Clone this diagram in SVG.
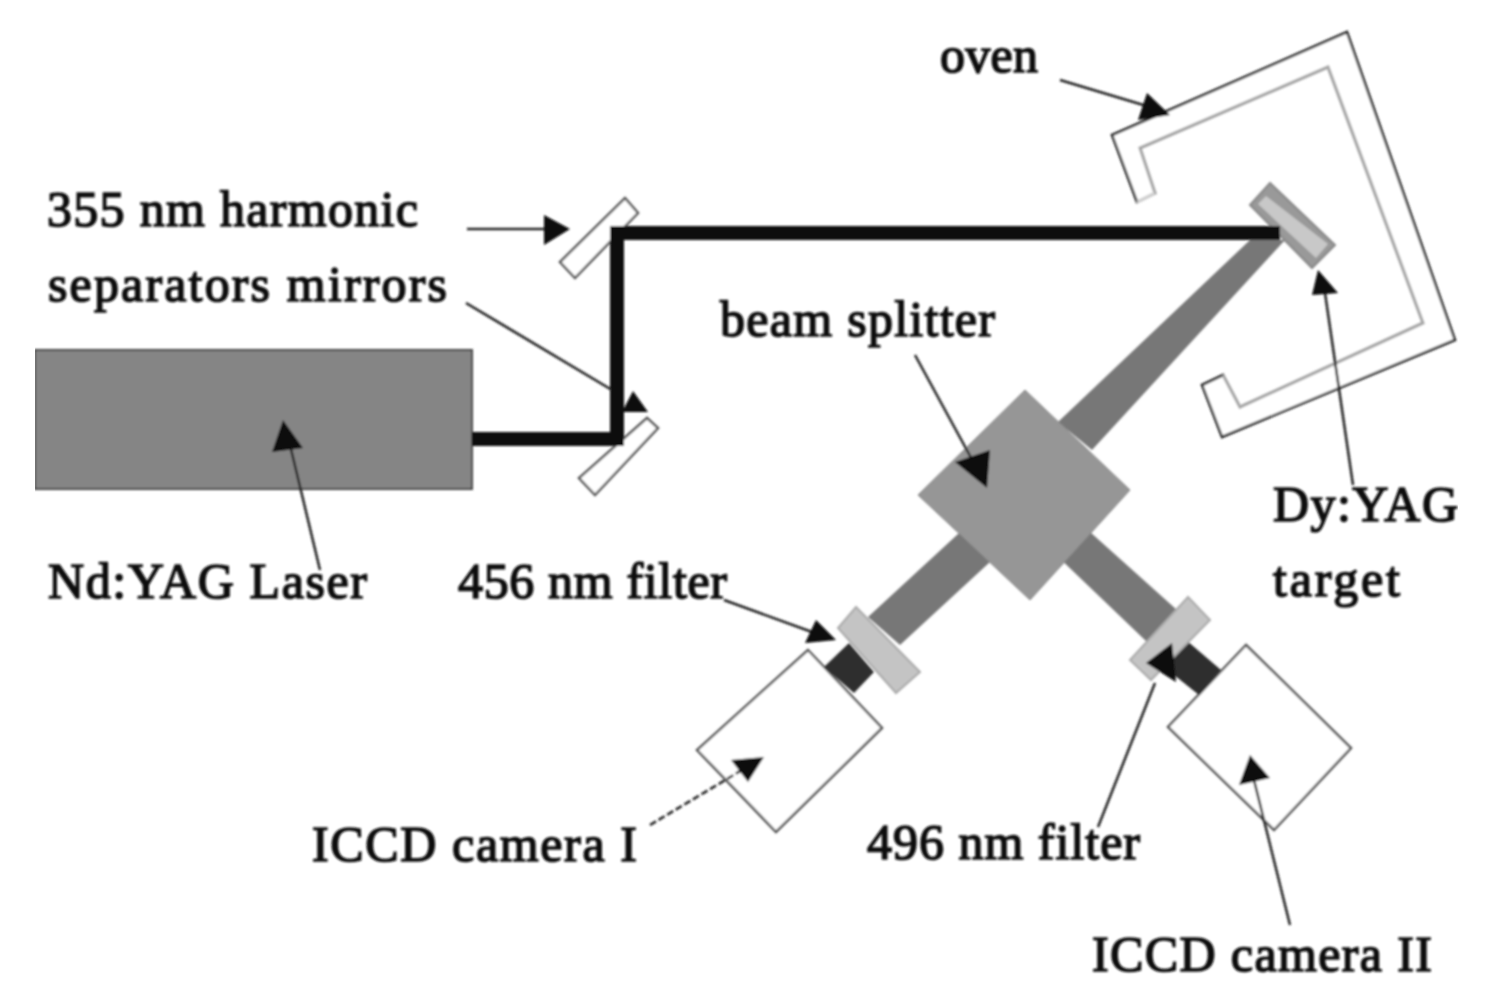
<svg xmlns="http://www.w3.org/2000/svg" width="1502" height="1000" viewBox="0 0 1502 1000">
<defs><filter id="soft" x="0" y="0" width="100%" height="100%"><feGaussianBlur stdDeviation="0.9"/></filter></defs>
<style>
.lbl{font-family:"Liberation Serif","Times New Roman",serif;font-size:50px;fill:#111;stroke:#111;stroke-width:1.6px}
.outline{fill:#fff;stroke:#555;stroke-width:2.5}
.beam{fill:#777}
.filter{fill:#c4c4c4;stroke:#aaa;stroke-width:2}
.dark{fill:#2e2e2e}
.lead{fill:none;stroke:#222;stroke-width:2.5}
.head{fill:#0a0a0a}
.laserbeam{fill:none;stroke:#0a0a0a;stroke-width:14;stroke-linejoin:miter}
</style>
<rect width="1502" height="1000" fill="#fff"/>
<g filter="url(#soft)">
<g id="oven"><path d="M1137,202 L1112,135 L1347,32 L1455,340 L1222,437 L1202,385 L1223,375 L1240,407 L1423,323 L1328,67 L1140,148 L1155,193 Z" fill="#fff" stroke="#222" stroke-width="2.5"/><path d="M1155,193 L1140,148 L1328,67 L1423,323 L1240,407 L1223,375" fill="none" stroke="#aaa" stroke-width="2.5"/><path d="M1137,202 L1155,193" fill="none" stroke="#ddd" stroke-width="2"/></g>
<g id="beams-gray"><polygon class="beam" points="1250,240 1285,240 1092,450 1058,422"/><polygon class="beam" points="868,617 900,645 1003,550 971,522"/><polygon class="beam" points="1053,552 1080,523 1177,610 1147,642"/></g>
<g id="laser"><rect x="35" y="350" width="437" height="139" fill="#858585" stroke="#444" stroke-width="2"/></g>
<g id="mirror-top"><polygon class="outline" points="625,198 638,213 575,278 560,262"/></g>
<g id="mirror-bottom"><polygon class="outline" points="647,418 658,428 595,495 579,478"/></g>
<g id="target"><polygon points="1270,183 1250,205 1312,268 1335,245" fill="#999" stroke="#888" stroke-width="2"/><polygon points="1266,196 1258,204 1316,258 1328,244" fill="#c8c8c8"/></g>
<g id="beam-splitter"><polygon points="1025,390 1130,490 1030,600 918,495" fill="#969696" stroke="#888" stroke-width="1"/></g>
<g id="camera-1"><polygon class="outline" points="808,650 882,728 776,832 697,750"/><polygon class="dark" points="849,643 874,672 854,693 824,667"/><polygon class="filter" points="856,607 920,672 896,693 838,628"/></g>
<g id="camera-2"><polygon class="outline" points="1246,645 1351,748 1274,830 1168,727"/><polygon class="dark" points="1186,640 1221,670 1199,695 1164,667"/><polygon class="filter" points="1188,597 1210,620 1151,680 1130,660"/></g>
<g id="connectors">
<path class="laserbeam" d="M472,439 H617 V233 H1280"/>
<path class="lead" d="M467,229 H546"/><polygon class="head" points="544,215 570,229 544,245"/>
<path class="lead" d="M466,303 L612,390"/><polygon class="head" points="633,391 648,412 622,412"/>
<path class="lead" d="M1060,80 L1150,107"/><polygon class="head" points="1147,93 1170,115 1138,120"/>
<path class="lead" d="M1353,485 L1325,293"/><polygon class="head" points="1318,270 1338,293 1312,295"/>
<path class="lead" d="M915,355 L975,465"/><polygon class="head" points="987,488 955,462 990,450"/>
<path class="lead" d="M320,570 L290,445"/><polygon class="head" points="283,420 303,448 272,452"/>
<path class="lead" d="M724,600 L812,632"/><polygon class="head" points="816,620 836,640 805,643"/>
<path class="lead" d="M1098,827 L1155,683"/><polygon class="head" points="1146,663 1172,643 1176,682"/>
<path class="lead" stroke-dasharray="7 3" d="M650,825 L742,770"/><polygon class="head" points="731,760 764,757 748,782"/>
<path class="lead" d="M1290,925 L1254,780"/><polygon class="head" points="1250,755 1270,778 1239,785"/>
</g>
<g id="labels">
<text class="lbl" x="940" y="72" textLength="98">oven</text>
<text class="lbl" x="47" y="226" textLength="371">355 nm harmonic</text>
<text class="lbl" x="48" y="301" textLength="399">separators mirrors</text>
<text class="lbl" x="720" y="336" textLength="275">beam splitter</text>
<text class="lbl" x="48" y="598" textLength="319">Nd:YAG Laser</text>
<text class="lbl" x="458" y="598" textLength="269">456 nm filter</text>
<text class="lbl" x="1273" y="521" textLength="185">Dy:YAG</text>
<text class="lbl" x="1273" y="596" textLength="127">target</text>
<text class="lbl" x="312" y="861" textLength="325">ICCD camera I</text>
<text class="lbl" x="867" y="859" textLength="273">496 nm filter</text>
<text class="lbl" x="1092" y="971" textLength="340">ICCD camera II</text>
</g>
</g>
</svg>
